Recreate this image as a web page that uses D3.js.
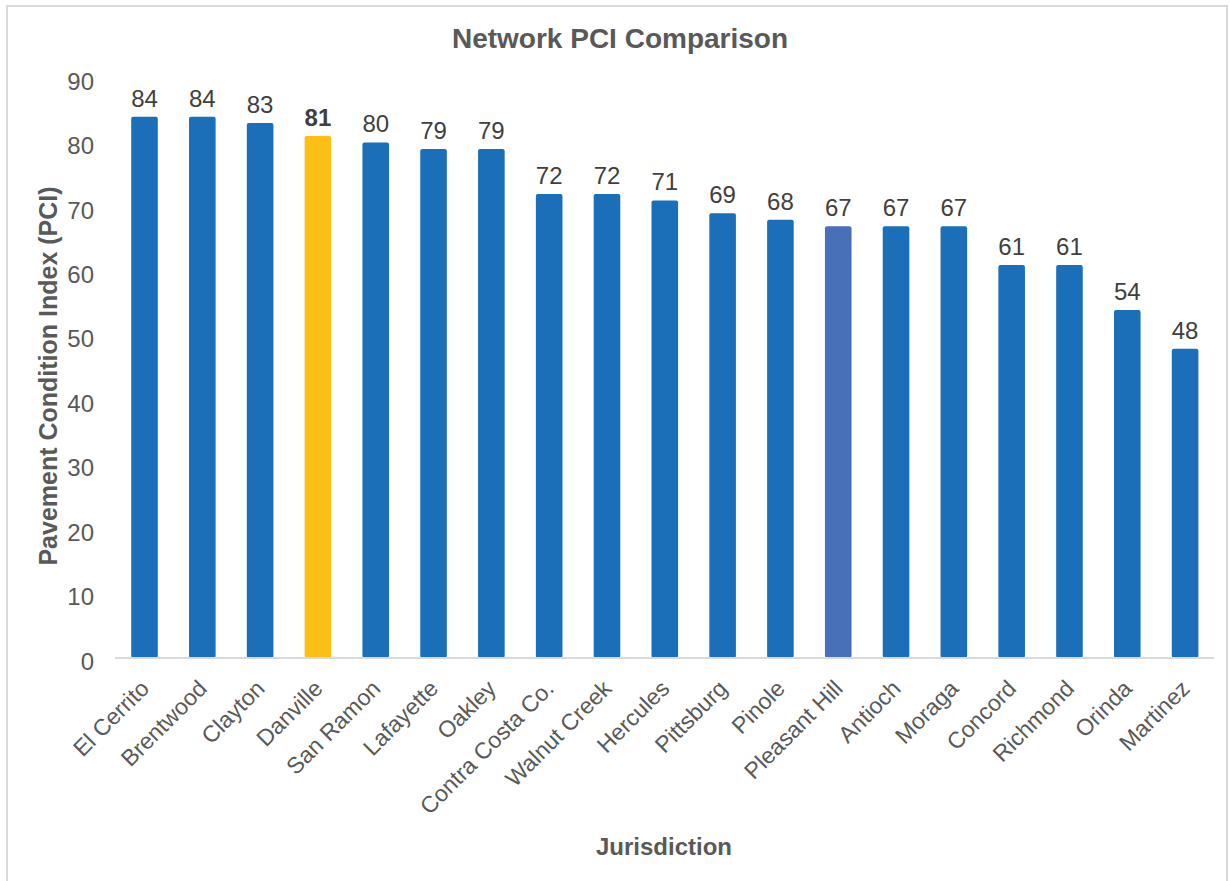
<!DOCTYPE html>
<html>
<head>
<meta charset="utf-8">
<script src="https://cdn.jsdelivr.net/npm/d3@7"></script>
<style>
  body { margin: 0; background: #fff; }
  svg { display: block; font-family: "Liberation Sans", Arial, sans-serif; }
</style>
</head>
<body>
<div id="graph"></div>
<script>
var jurisdictions = ['El Cerrito', 'Brentwood', 'Clayton', 'Danville', 'San Ramon', 'Lafayette', 'Oakley',
  'Contra Costa Co.', 'Walnut Creek', 'Hercules', 'Pittsburg', 'Pinole', 'Pleasant Hill', 'Antioch',
  'Moraga', 'Concord', 'Richmond', 'Orinda', 'Martinez']
var pci = [84, 84, 83, 81, 80, 79, 79, 72, 72, 71, 69, 68, 67, 67, 67, 61, 61, 54, 48]
var yTicks = [0, 10, 20, 30, 40, 50, 60, 70, 80, 90]

var width = 1230, height = 881
var svg = d3.select('#graph').append('svg')
  .attr('width', width)
  .attr('height', height)

// chart frame
svg.append('rect')
  .attr('x', 7).attr('y', 6)
  .attr('width', 1220).attr('height', 890)
  .attr('fill', 'none')
  .attr('stroke', '#d9d9d9')
  .attr('stroke-width', 2)

var xScale = d3.scaleBand()
  .domain(jurisdictions)
  .range([115.6, 1214])
  .paddingInner(0.54)
  .paddingOuter(0.27)

var yScale = d3.scaleLinear()
  .domain([0, 90])
  .range([658, 78])

function barColor(name) {
  if (name == 'Danville') return '#fcbf15'
  if (name == 'Pleasant Hill') return '#4870b8'
  return '#1a6fb8'
}

// y tick labels (no axis line in the original)
svg.append('g').selectAll('text')
  .data(yTicks)
  .enter().append('text')
  .attr('x', 94)
  .attr('y', function(d) { return yScale(d) + 3 })
  .attr('dy', '0.36em')
  .attr('text-anchor', 'end')
  .attr('fill', '#595959')
  .style('font-size', '24px')
  .text(function(d) { return d })

var data = jurisdictions.map(function(j, i) { return { name: j, value: pci[i] } })

svg.append('g').selectAll('rect')
  .data(data)
  .enter().append('rect')
  .attr('x', function(d) { return xScale(d.name) })
  .attr('y', function(d) { return yScale(d.value) })
  .attr('width', xScale.bandwidth())
  .attr('height', function(d) { return yScale(0) - yScale(d.value) })
  .attr('rx', 2)
  .attr('fill', function(d) { return barColor(d.name) })

// baseline
svg.append('line')
  .attr('x1', 115).attr('x2', 1214)
  .attr('y1', yScale(0)).attr('y2', yScale(0))
  .attr('stroke', '#d9d9d9')
  .attr('stroke-width', 2)

// value labels
svg.append('g').selectAll('text')
  .data(data)
  .enter().append('text')
  .attr('x', function(d) { return xScale(d.name) + xScale.bandwidth() / 2 })
  .attr('y', function(d) { return yScale(d.value) - 10 })
  .attr('text-anchor', 'middle')
  .attr('fill', '#404040')
  .style('font-size', '24px')
  .style('font-weight', function(d) { return d.name == 'Danville' ? 'bold' : 'normal' })
  .text(function(d) { return d.value })

// category labels, rotated
svg.append('g').selectAll('text')
  .data(jurisdictions)
  .enter().append('text')
  .attr('transform', function(d) {
    return 'translate(' + (xScale(d) + xScale.bandwidth() / 2 + 6) + ',690) rotate(-45)'
  })
  .attr('text-anchor', 'end')
  .attr('fill', '#595959')
  .style('font-size', '23px')
  .text(function(d) { return d })

svg.append('text')
  .attr('x', 620).attr('y', 48)
  .attr('text-anchor', 'middle')
  .attr('fill', '#595959')
  .style('font-size', '28px')
  .style('font-weight', 'bold')
  .text('Network PCI Comparison')

svg.append('text')
  .attr('x', 664).attr('y', 855)
  .attr('text-anchor', 'middle')
  .attr('fill', '#595959')
  .style('font-size', '24px')
  .style('font-weight', 'bold')
  .text('Jurisdiction')

svg.append('text')
  .attr('transform', 'translate(57,376) rotate(-90)')
  .attr('text-anchor', 'middle')
  .attr('fill', '#595959')
  .style('font-size', '25px')
  .style('font-weight', 'bold')
  .text('Pavement Condition Index (PCI)')
</script>
</body>
</html>
